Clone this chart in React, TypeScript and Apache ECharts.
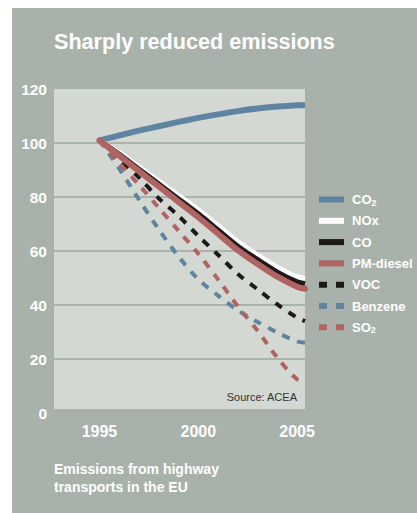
import React, { useEffect, useRef } from "react";
import * as echarts from "echarts";

const years = [1995, 1996, 1997, 1998, 1999, 2000, 2001, 2002, 2003, 2004, 2005, 2005.4];
const co2 = [101, 102.8, 104.6, 106.2, 107.8, 109.3, 110.6, 111.8, 112.8, 113.5, 114, 114.1];
const nox = [101, 96.5, 91.2, 85.9, 80.6, 75.3, 69.4, 63.5, 58.5, 54, 50.4, 49.8];
const co = [101, 95.8, 90.3, 84.8, 79.3, 73.8, 67.8, 61.8, 56.8, 52.2, 48.6, 47.9];
const pmDiesel = [101, 95.3, 89.6, 83.9, 78.2, 72.5, 66.4, 60.3, 55.2, 50.5, 46.8, 46];
const voc = [101, 94, 87.2, 79.5, 73, 65.6, 58.6, 51.5, 45.8, 40.2, 35.3, 34];
const benzene = [101, 90.5, 79, 68, 58, 49.5, 43.5, 38, 33.7, 29.8, 26.5, 26];
const so2 = [101, 92.5, 84.5, 76, 67.5, 59, 49.5, 39.5, 30.5, 20.5, 12.5, 12];

const xTicks = [1995, 2000, 2005];
const seriesNames = ["CO2", "NOx", "CO", "PM-diesel", "VOC", "Benzene", "SO2"];

const FONT = "'Liberation Sans', Arial, Helvetica, sans-serif";
const CARD = "#a9b2aa";
const PLOT = "#d3d8d2";
const GRIDC = "#aab3aa";
const BLUE = "#5f84a2";
const RED = "#b06361";
const BLACK = "#1c1919";
const WHITE = "#ffffff";

const SOLID_ICON = "rect";
const DASH_ICON = "path://M0,0H8V6H0Z M17,0H25V6H17Z";

function pairs(vals: number[]) {
  return years.map((y, i) => [y, vals[i]]);
}

export default function App() {
  const ref = useRef<HTMLDivElement>(null);
  useEffect(() => {
    if (!ref.current) return;
    const chart = echarts.init(ref.current, undefined, { renderer: "svg" });
    const line = (name: string, vals: number[], color: string, width: number, dashed: boolean, cap: string = "butt") => ({
      name,
      type: "line",
      data: pairs(vals),
      smooth: 0.3,
      showSymbol: false,
      symbol: "none",
      color,
      itemStyle: { color },
      lineStyle: {
        color,
        width,
        type: dashed ? [8, 8] : "solid",
        cap,
        join: "round",
      },
      emphasis: { disabled: true },
      silent: true,
    });
    const legendColors: Record<string, string> = {
      CO2: BLUE,
      NOx: WHITE,
      CO: BLACK,
      "PM-diesel": RED,
      VOC: BLACK,
      Benzene: BLUE,
      SO2: RED,
    };
    const dashedSet = new Set(["VOC", "Benzene", "SO2"]);
    chart.setOption({
      animation: false,
      backgroundColor: "#ffffff",
      textStyle: { fontFamily: FONT },
      graphic: [
        { type: "rect", z: -10, silent: true, shape: { x: 12, y: 8, width: 405, height: 505 }, style: { fill: CARD } },
        { type: "rect", z: -9, silent: true, shape: { x: 54, y: 89, width: 251, height: 320 }, style: { fill: PLOT } },
        {
          type: "text",
          left: 54,
          top: 30,
          style: { text: "Sharply reduced emissions", fill: WHITE, fontSize: 21.6, fontWeight: "bold", fontFamily: FONT },
        },
        {
          type: "text",
          x: 297,
          y: 397,
          style: { text: "Source: ACEA", fill: "#333333", fontSize: 11, fontFamily: FONT, align: "right", verticalAlign: "middle" },
        },
        {
          type: "text",
          left: 54,
          top: 460,
          style: {
            text: "Emissions from highway\ntransports in the EU",
            fill: WHITE,
            fontSize: 14,
            fontWeight: "bold",
            lineHeight: 18,
            fontFamily: FONT,
          },
        },
      ],
      grid: { left: 54, top: 89, width: 251, height: 324, containLabel: false },
      xAxis: {
        type: "value",
        min: 1992.7,
        max: 2005.4,
        axisLine: { show: false },
        axisTick: { show: false },
        splitLine: { show: false },
        axisLabel: {
          customValues: xTicks,
          color: WHITE,
          fontSize: 16,
          fontWeight: "bold",
          margin: 10,
          fontFamily: FONT,
          formatter: (v: number) => String(v),
        },
      },
      yAxis: {
        type: "value",
        min: 0,
        max: 120,
        interval: 20,
        axisLine: { show: false },
        axisTick: { show: false },
        splitLine: {
          show: true,
          lineStyle: {
            color: ["transparent", GRIDC, GRIDC, GRIDC, GRIDC, GRIDC, "transparent"],
            width: 2,
          },
        },
        axisLabel: { color: WHITE, fontSize: 15.5, fontWeight: "bold", margin: 7, fontFamily: FONT },
      },
      legend: {
        orient: "vertical",
        left: 319,
        top: 192,
        padding: 0,
        itemWidth: 25,
        itemHeight: 6,
        itemGap: 6.3,
        selectedMode: false,
        data: seriesNames.map((n) => ({
          name: n,
          icon: dashedSet.has(n) ? DASH_ICON : SOLID_ICON,
          itemStyle: { color: legendColors[n] },
        })),
        formatter: (name: string) => (name === "CO2" ? "CO{sub|2}" : name === "SO2" ? "SO{sub|2}" : name),
        textStyle: {
          color: WHITE,
          fontSize: 13,
          fontWeight: "bold",
          fontFamily: FONT,
          lineHeight: 15,
          padding: [0, 0, 0, 3],
          rich: {
            sub: { color: WHITE, fontSize: 9, fontWeight: "bold", fontFamily: FONT, lineHeight: 9, verticalAlign: "bottom" },
          },
        },
      },
      series: [
        line("CO2", co2, BLUE, 6, false, "butt"),
        line("VOC", voc, BLACK, 4, true),
        line("Benzene", benzene, BLUE, 4, true),
        line("SO2", so2, RED, 4, true),
        line("NOx", nox, WHITE, 5, false),
        line("CO", co, BLACK, 5, false),
        line("PM-diesel", pmDiesel, RED, 6, false, "round"),
      ],
    });
    return () => chart.dispose();
  }, []);
  return (
    <div style={{ position: "fixed", left: 0, top: 0, width: 417, height: 513 }}>
      <div ref={ref} style={{ width: 417, height: 513 }} />
    </div>
  );
}
